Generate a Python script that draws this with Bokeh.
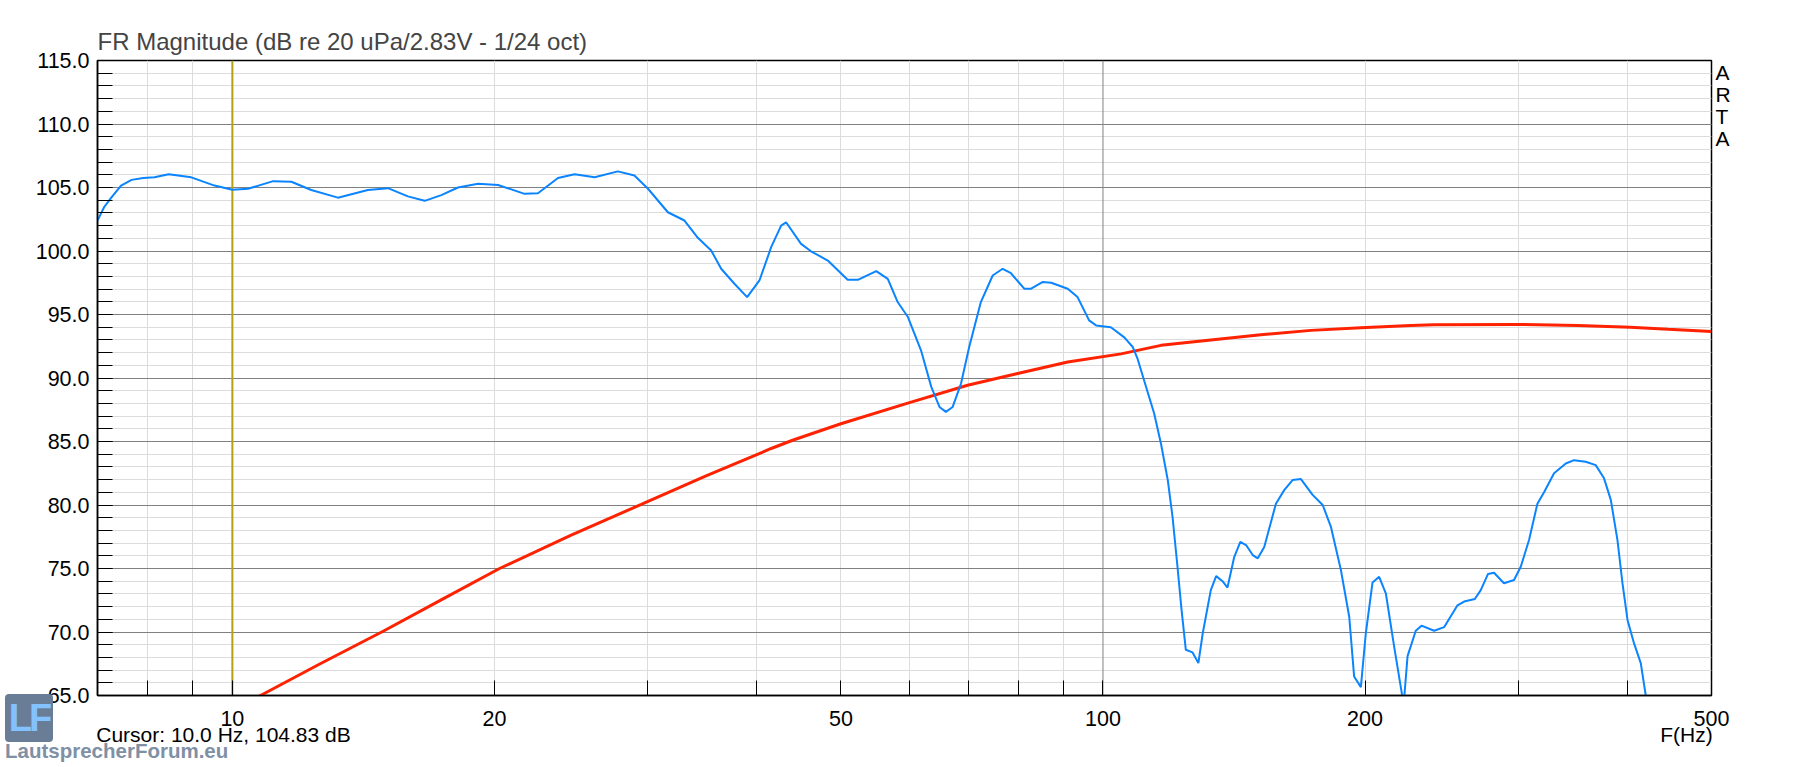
import json

from bokeh.plotting import figure
from bokeh.resources import INLINE
from bokeh.embed import file_html
from bokeh.layouts import column
from bokeh.models import (Span, Div, FixedTicker, SingleIntervalTicker, LinearAxis,
                          LinearScale, Range1d, CustomJSTickFormatter, PrintfTickFormatter)

freq_meas = [7.00, 7.13, 7.26, 7.45, 7.66, 7.9, 8.14, 8.45, 8.97, 9.54, 10.0, 10.42,
             11.14, 11.69, 12.32, 13.22, 14.31, 15.09, 15.91, 16.63, 17.38, 18.16,
             19.15, 20.19, 21.66, 22.44, 23.66, 24.72, 26.07, 27.72, 28.96, 30.02,
             31.64, 33.06, 34.25, 35.48, 36.43, 37.73, 39.02, 40.31, 41.58, 42.69,
             43.25, 45.0, 46.2, 48.3, 50.9, 52.3, 54.9, 56.6, 58.1, 59.7, 61.8, 63.5,
             64.9, 66.0, 67.2, 68.7, 70.2, 72.4, 74.7, 76.7, 78.4, 81.2, 82.7, 85.2,
             87.2, 91.1, 93.5, 96.4, 98.2, 102.1, 105.8, 108.2, 109.6, 111.5, 114.5,
             116.6, 118.7, 120.2, 121.8, 123.1, 124.5, 126.7, 128.7, 130.2, 133.0,
             134.9, 137.2, 139.0, 141.5, 143.8, 146.0, 148.6, 150.6, 153.2, 158.0,
             161.5, 165.1, 168.8, 174.1, 178.8, 182.7, 187.6, 191.8, 194.3, 197.8,
             200.4, 204.0, 207.6, 211.3, 216.0, 221.5, 223.8, 228.7, 232.2, 240.1,
             246.5, 255.4, 259.9, 267.4, 271.6, 276.9, 281.3, 288.8, 296.6, 301.9,
             308.6, 315.5, 321.1, 329.7, 340.1, 347.6, 358.5, 368.1, 376.3, 383.1,
             389.9, 395.1, 400.4, 407.4, 414.7, 420.2, 425.0]
db_meas = [102.4, 103.5, 104.2, 105.15, 105.6, 105.75, 105.8, 106.05, 105.8, 105.15,
           104.83, 104.9, 105.5, 105.45, 104.8, 104.2, 104.8, 104.95, 104.3, 103.95,
           104.4, 105.0, 105.3, 105.2, 104.5, 104.55, 105.75, 106.05, 105.8, 106.27,
           105.94, 104.9, 103.05, 102.4, 101.04, 100.04, 98.6, 97.42, 96.37, 97.68,
           100.3, 102.0, 102.26, 100.56, 99.98, 99.25, 97.73, 97.73, 98.42, 97.8,
           95.98, 94.8, 92.18, 89.3, 87.72, 87.33, 87.72, 89.56, 92.44, 95.98, 98.07,
           98.6, 98.25, 97.03, 97.03, 97.55, 97.5, 97.03, 96.37, 94.54, 94.14, 94.0,
           93.2, 92.44, 91.5, 89.8, 87.2, 84.8, 81.96, 79.07, 75.1, 71.74, 68.6, 68.4,
           67.55, 69.9, 73.3, 74.4, 74.0, 73.5, 75.9, 77.1, 76.85, 76.06, 75.8, 76.7,
           80.1, 81.17, 81.96, 82.04, 80.8, 80.0, 78.3, 74.9, 71.2, 66.5, 65.66, 69.9,
           73.9, 74.35, 73.05, 68.85, 64.3, 68.1, 70.1, 70.5, 70.1, 70.38, 72.1, 72.4,
           72.6, 73.3, 74.57, 74.67, 73.84, 74.1, 75.14, 77.24, 80.1, 81.0, 82.5,
           83.27, 83.53, 83.4, 83.14, 82.1, 80.4, 77.24, 73.84, 70.95, 69.1, 67.55,
           65.0, 63.2]

# red curve: model response
freq_model = [10.5, 10.84, 12.6, 14.9, 17.5, 20.27, 24.5, 29.49, 35.0, 41.58, 44.0,
              50.0, 60.2, 69.9, 79.8, 91.1, 104.9, 116.6, 133.0, 151.8, 173.3, 197.8,
              225.7, 240.0, 299.0, 351.0, 403.0, 446.0, 500.0]
db_model = [64.6, 65.1, 67.48, 70.06, 72.65, 75.0, 77.63, 80.05, 82.29, 84.45, 85.1,
            86.4, 88.1, 89.43, 90.35, 91.26, 91.9, 92.57, 93.0, 93.4, 93.75, 93.96,
            94.14, 94.19, 94.22, 94.14, 94.0, 93.83, 93.67]

x_ticks = [8, 9, 10, 20, 30, 40, 50, 60, 70, 80, 90, 100, 200, 300, 400, 500]
x_tick_labels = [10, 20, 50, 100, 200, 500]
x_light_grid = [8, 9, 20, 30, 40, 50, 60, 70, 80, 90, 200, 300, 400]
cursor_freq = 10
dark_grid_freq = 100

# texts around the frame; positions in pixels from the frame's left / top edge
bottom_texts = ["Cursor: 10.0 Hz, 104.83 dB", "F(Hz)"]
bottom_pos = [126, 1589]
side_texts = ["A", "R", "T", "A"]
side_pos = [12, 34, 56, 78]
mark_text = "LautsprecherForum.eu"
logo_text = "LF"

FONT = "Liberation Sans"
W, H = 1790, 751
LEFT, TOP, RIGHT, BOTTOM = 97, 60, 79, 56
FRAME_W = W - LEFT - RIGHT
FRAME_H = H - TOP - BOTTOM

p = figure(width=W, height=H, x_axis_type="log", x_range=(7, 500), y_range=(65, 115),
           output_backend="svg", toolbar_location=None,
           min_border_left=LEFT, min_border_right=RIGHT,
           min_border_top=TOP, min_border_bottom=BOTTOM)
p.background_fill_color = "white"
p.border_fill_color = "white"
p.outline_line_color = "black"
p.outline_line_width = 1.5

p.title.text = "FR Magnitude (dB re 20 uPa/2.83V - 1/24 oct)"
p.title.text_font = FONT
p.title.text_font_size = "24px"
p.title.text_font_style = "normal"
p.title.align = "left"
p.title.standoff = 12

xax = p.xaxis[0]
yax = p.yaxis[0]

# y axis
yt = SingleIntervalTicker(interval=5, num_minor_ticks=5)
yax.ticker = yt
yax.formatter = PrintfTickFormatter(format="%.1f")
yax.major_tick_in = 15
yax.major_tick_out = 0
yax.minor_tick_in = 15
yax.minor_tick_out = 0
yax.major_label_standoff = 8
p.ygrid.ticker = yt
p.ygrid.grid_line_color = "#808080"
p.ygrid.minor_grid_line_color = "#dcdcdc"

# x axis
xax.ticker = FixedTicker(ticks=x_ticks, minor_ticks=[])
xax.formatter = CustomJSTickFormatter(
    code="const L = %s; const t = Math.round(tick); return L.includes(t) ? String(t) : '';"
    % json.dumps(x_tick_labels))
xax.major_tick_in = 15
xax.major_tick_out = 0
xax.minor_tick_in = 0
xax.minor_tick_out = 0
xax.major_label_standoff = 15
p.xgrid.ticker = FixedTicker(ticks=x_light_grid, minor_ticks=[])
p.xgrid.grid_line_color = "#dcdcdc"

for ax in (xax, yax):
    ax.axis_line_color = "black"
    ax.axis_line_width = 1.5
    ax.major_tick_line_color = "black"
    ax.minor_tick_line_color = "black"
    ax.major_label_text_font = FONT
    ax.major_label_text_font_size = "21.5px"
    ax.major_label_text_color = "black"
    ax.major_label_text_line_height = 1.0


def text_formatter(pos, texts):
    table = dict(zip(pos, texts))
    return CustomJSTickFormatter(
        code="const L = %s; return L[String(Math.round(tick))] ?? '';" % json.dumps(table))


def text_axis(range_kw, pos, texts, standoff, size):
    ax = LinearAxis(**range_kw, ticker=FixedTicker(ticks=pos, minor_ticks=[]),
                    formatter=text_formatter(pos, texts))
    ax.axis_line_color = None
    ax.major_tick_line_color = None
    ax.minor_tick_line_color = None
    ax.major_tick_in = 0
    ax.major_tick_out = 0
    ax.minor_tick_in = 0
    ax.minor_tick_out = 0
    ax.major_label_standoff = standoff
    ax.major_label_text_font = FONT
    ax.major_label_text_font_size = size
    ax.major_label_text_color = "black"
    ax.major_label_text_line_height = 1.0
    return ax


p.extra_x_ranges = {"row": Range1d(0, FRAME_W)}
p.extra_x_scales = {"row": LinearScale()}
p.extra_y_ranges = {"col": Range1d(FRAME_H, 0)}

# cursor readout and axis name under the tick labels
bottom_ax = text_axis(dict(x_range_name="row"), bottom_pos, bottom_texts, -6, "21px")
p.add_layout(bottom_ax, "below")

# ARTA letters right of the frame
side_ax = text_axis(dict(y_range_name="col"), side_pos, side_texts, 4, "21px")
p.add_layout(side_ax, "right")

p.add_layout(Span(location=dark_grid_freq, dimension="height", line_color="#808080",
                  line_width=1, level="underlay"))
p.add_layout(Span(location=cursor_freq, dimension="height", line_color="#b4a014",
                  line_width=2, level="underlay"))

p.line(freq_model, db_model, line_color="#ff2200", line_width=3)
p.line(freq_meas, db_meas, line_color="#0a84ff", line_width=2)

# forum watermark laid over the lower left corner: logo square and site name
logo = Div(text=logo_text, width=48, height=48,
           styles={"position": "absolute", "left": "0px", "top": "689px",
                   "background-color": "#6a7d96", "border-radius": "4px",
                   "color": "#84c2ff", "font-family": FONT, "font-weight": "bold",
                   "font-size": "38px", "line-height": "48px", "text-align": "center",
                   "letter-spacing": "-3px", "overflow": "hidden", "z-index": "5"})
mark = Div(text=mark_text, width=240, height=22,
           styles={"position": "absolute", "left": "0px", "top": "735px",
                   "color": "#6e8198", "opacity": "0.88", "font-family": FONT,
                   "font-weight": "bold", "font-size": "20.5px", "line-height": "22px",
                   "white-space": "nowrap", "z-index": "5"})

layout = column(p, logo, mark, spacing=0)
open("out.html", "w").write(file_html(layout, INLINE))
